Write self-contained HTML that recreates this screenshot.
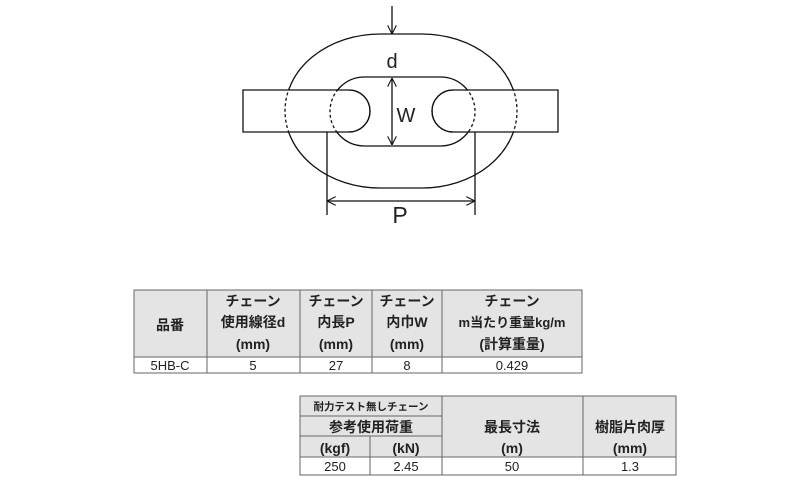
<!DOCTYPE html>
<html><head><meta charset="utf-8"><style>
html,body{margin:0;padding:0;background:#fff;}
svg{display:block;}
text{font-family:"Liberation Sans","Noto Sans CJK JP",sans-serif;fill:#222;}
</style></head><body>
<svg width="800" height="495" viewBox="0 0 800 495" xmlns="http://www.w3.org/2000/svg">
<defs>
<clipPath id="bars"><rect x="243" y="90" width="315" height="42"/></clipPath>
<marker id="ah" viewBox="0 0 10 10" refX="10" refY="5" markerWidth="9" markerHeight="9" orient="auto-start-reverse" markerUnits="userSpaceOnUse"><path d="M0,0 L10,5 L0,10" fill="none" stroke="#111" stroke-width="1.2"/></marker>
</defs>
<g fill="none" stroke="#111" stroke-width="1.3">
<rect x="285" y="34" width="232" height="154" rx="95" ry="77"/>
<rect x="330" y="77" width="145" height="69" rx="34.5" ry="34.5"/>
<path d="M243,90 H349 A21,21 0 0 1 349,132 H243 Z" fill="#fff"/>
<path d="M558,90 H453 A21,21 0 0 0 453,132 H558 Z" fill="#fff"/>
<g clip-path="url(#bars)" stroke-dasharray="3,2.5">
<rect x="285" y="34" width="232" height="154" rx="95" ry="77"/>
<rect x="330" y="77" width="145" height="69" rx="34.5" ry="34.5"/>
</g>
<path d="M349,90 A21,21 0 0 1 349,132"/>
<path d="M453,90 A21,21 0 0 0 453,132"/>
<line x1="392" y1="6" x2="392" y2="34" marker-end="url(#ah)"/>
<line x1="392" y1="78" x2="392" y2="145" marker-start="url(#ah)" marker-end="url(#ah)"/>
<line x1="327" y1="132" x2="327" y2="215"/>
<line x1="475" y1="132" x2="475" y2="215"/>
<line x1="327" y1="201" x2="475" y2="201" marker-start="url(#ah)" marker-end="url(#ah)"/>
</g>
<text x="392" y="68" font-size="20" text-anchor="middle">d</text>
<text x="406" y="122" font-size="20" text-anchor="middle">W</text>
<text x="400" y="223" font-size="23" text-anchor="middle">P</text>

<g stroke="#666" stroke-width="1">
<rect x="134" y="290" width="448" height="67" fill="#e4e4e4"/>
<rect x="134" y="357" width="448" height="16" fill="#fff"/>
<line x1="207" y1="290" x2="207" y2="373"/>
<line x1="300" y1="290" x2="300" y2="373"/>
<line x1="372" y1="290" x2="372" y2="373"/>
<line x1="442" y1="290" x2="442" y2="373"/>
</g>
<g font-size="14" text-anchor="middle" font-weight="bold">
<text x="170" y="330">品番</text>
<text x="253" y="306">チェーン</text><text x="253" y="327">使用線径d</text><text x="253" y="349">(mm)</text>
<text x="336" y="306">チェーン</text><text x="336" y="327">内長P</text><text x="336" y="349">(mm)</text>
<text x="407" y="306">チェーン</text><text x="407" y="327">内巾W</text><text x="407" y="349">(mm)</text>
<text x="512" y="306">チェーン</text><text x="512" y="327" font-size="13">m当たり重量kg/m</text><text x="512" y="349">(計算重量)</text>
</g>
<g font-size="13" text-anchor="middle">
<text x="170" y="370">5HB-C</text>
<text x="253" y="370">5</text>
<text x="336" y="370">27</text>
<text x="407" y="370">8</text>
<text x="512" y="370">0.429</text>
</g>

<g stroke="#666" stroke-width="1">
<rect x="300" y="396" width="376" height="61" fill="#e4e4e4"/>
<rect x="300" y="457" width="376" height="18" fill="#fff"/>
<line x1="300" y1="416" x2="442" y2="416"/>
<line x1="300" y1="436" x2="442" y2="436"/>
<line x1="370" y1="436" x2="370" y2="475"/>
<line x1="442" y1="396" x2="442" y2="475"/>
<line x1="583" y1="396" x2="583" y2="475"/>
</g>
<g text-anchor="middle" font-weight="bold">
<text x="371" y="410" font-size="10.5">耐力テスト無しチェーン</text>
<text x="371" y="432" font-size="14">参考使用荷重</text>
<text x="335" y="453" font-size="14">(kgf)</text>
<text x="406" y="453" font-size="14">(kN)</text>
<text x="512" y="432" font-size="14">最長寸法</text>
<text x="512" y="453" font-size="14">(m)</text>
<text x="630" y="432" font-size="14">樹脂片肉厚</text>
<text x="630" y="453" font-size="14">(mm)</text>
</g>
<g font-size="13" text-anchor="middle">
<text x="335" y="471">250</text>
<text x="406" y="471">2.45</text>
<text x="512" y="471">50</text>
<text x="630" y="471">1.3</text>
</g>
</svg>
</body></html>
